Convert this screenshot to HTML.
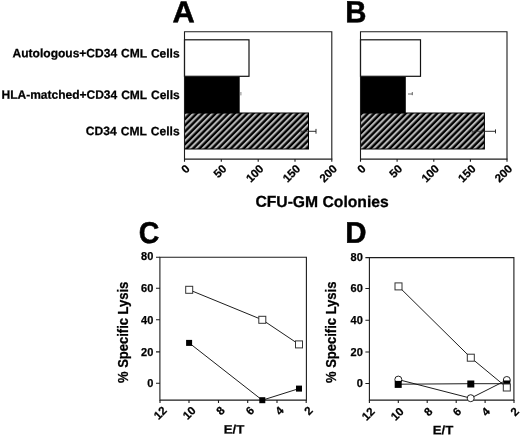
<!DOCTYPE html>
<html>
<head>
<meta charset="utf-8">
<title>Figure</title>
<style>
html,body{margin:0;padding:0;background:#fff;}
body{width:520px;height:437px;overflow:hidden;font-family:"Liberation Sans",sans-serif;}
svg{display:block;will-change:transform;}
text{font-family:"Liberation Sans",sans-serif;font-weight:bold;fill:#000;}
.pl{font-size:30px;stroke:#000;stroke-width:0.5px;}
.lab{font-size:12.1px;stroke:#000;stroke-width:0.25px;}
.tk{font-size:11px;stroke:#000;stroke-width:0.25px;}
.rt{font-size:11.5px;}
.ax{font-size:15.7px;stroke:#000;stroke-width:0.3px;}
.ln{stroke:#111;stroke-width:0.95;fill:none;}
.eb{stroke:#2a2a2a;stroke-width:0.7;fill:none;}
.eb2{stroke:#222;stroke-width:0.95;fill:none;}
.fr{stroke:#1c1c1c;stroke-width:1.1;fill:none;}
</style>
</head>
<body>
<svg width="520" height="437" viewBox="0 0 520 437">
<defs>
<pattern id="hatch" width="4.5" height="4.45" patternUnits="userSpaceOnUse" patternTransform="rotate(-45) translate(0 -2.0)">
<rect x="0" y="0" width="4.5" height="4.5" fill="#000"/>
<rect x="0" y="0" width="4.5" height="2.1" fill="#b6b6b6"/>
</pattern>
<pattern id="hatchB" width="4.5" height="4.45" patternUnits="userSpaceOnUse" patternTransform="rotate(-45) translate(0 -1.1)">
<rect x="0" y="0" width="4.5" height="4.5" fill="#000"/>
<rect x="0" y="0" width="4.5" height="2.1" fill="#b6b6b6"/>
</pattern>
</defs>
<rect x="0" y="0" width="520" height="437" fill="#fff"/>

<!-- Panel letters -->
<text class="pl" transform="translate(172.55 22.35) rotate(0.1) scale(1.025 1.011)">A</text>
<text class="pl" transform="translate(345.19 22.35) rotate(0.1) scale(0.978 1.013)">B</text>
<text class="pl" transform="translate(138.78 243.06) rotate(0.1) scale(0.948 1.003)">C</text>
<text class="pl" transform="translate(345.33 242.75) rotate(0.1) scale(0.981 0.998)">D</text>

<!-- Row labels -->
<text class="lab" text-anchor="end" style="word-spacing:0.7px" transform="translate(179.65 57.45) rotate(0.1) scale(0.9944 1)">Autologous+CD34 CML Cells</text>
<text class="lab" text-anchor="end" style="word-spacing:0.7px" transform="translate(179.65 99) rotate(0.1) scale(0.9918 1)">HLA-matched+CD34 CML Cells</text>
<text class="lab" text-anchor="end" style="word-spacing:0.7px" transform="translate(179.65 135.25) rotate(0.1) scale(1.0005 1)">CD34 CML Cells</text>

<!-- Panel A -->
<g id="pA">
<rect x="184.5" y="113" width="124" height="36" fill="url(#hatch)" stroke="#000" stroke-width="1"/>
<rect x="184.5" y="76.6" width="55.2" height="36.5" fill="#000"/>
<rect x="184.5" y="39.8" width="64.5" height="36.5" fill="#fff" stroke="#111" stroke-width="1.2"/>
<path class="eb" d="M301 131.3H309M301 129.8V132.8"/><path class="eb2" d="M309 131.3H316M316 128.9V133.7"/>
<path d="M240.9 92V95.4" stroke="#777" stroke-width="0.9" fill="none"/>
<path class="fr" d="M184.5 159.1V31.8H331.8V159.1"/>
<path class="fr" d="M184 159.1H332.3"/>
<path class="fr" d="M184.5 159.1V161.8M221.3 159.1V161.8M258.2 159.1V161.8M295 159.1V161.8M331.8 159.1V161.8"/>
<g class="tk rt">
<text text-anchor="end" transform="translate(190.5 169.4) rotate(-45)">0</text>
<text text-anchor="end" transform="translate(227.3 169.4) rotate(-45)">50</text>
<text text-anchor="end" transform="translate(264.2 169.4) rotate(-45)">100</text>
<text text-anchor="end" transform="translate(301 169.4) rotate(-45)">150</text>
<text text-anchor="end" transform="translate(337.8 169.4) rotate(-45)">200</text>
</g>
</g>

<!-- Panel B -->
<g id="pB">
<rect x="360.5" y="113" width="123.9" height="36" fill="url(#hatchB)" stroke="#000" stroke-width="1"/>
<rect x="360.5" y="76.6" width="45.3" height="36.5" fill="#000"/>
<rect x="360.5" y="39.8" width="60" height="36.5" fill="#fff" stroke="#111" stroke-width="1.2"/>
<path class="eb" d="M472.2 131.3H485M472.2 129.6V133"/><path class="eb2" d="M485 131.3H495.5M495.5 129.4V133.4"/>
<path class="eb" d="M408 94H412.3M412.3 92V95.2" stroke-width="0.9"/>
<path class="fr" d="M360.5 159.1V31.8H507V159.1"/>
<path class="fr" d="M360 159.1H507.5"/>
<path class="fr" d="M360.5 159.1V161.8M397.1 159.1V161.8M433.8 159.1V161.8M470.4 159.1V161.8M507 159.1V161.8"/>
<g class="tk rt">
<text text-anchor="end" transform="translate(366.5 169.4) rotate(-45)">0</text>
<text text-anchor="end" transform="translate(403.1 169.4) rotate(-45)">50</text>
<text text-anchor="end" transform="translate(439.8 169.4) rotate(-45)">100</text>
<text text-anchor="end" transform="translate(476.4 169.4) rotate(-45)">150</text>
<text text-anchor="end" transform="translate(513 169.4) rotate(-45)">200</text>
</g>
</g>

<text class="ax" transform="translate(255.4 206.85) rotate(0.1)">CFU-GM Colonies</text>

<!-- Panel C -->
<g id="pC">
<path class="fr" d="M159.9 257.2H306.4V400.1H159.9Z"/>
<path class="fr" d="M156 257.2H160M156 288.3H160M156 319.8H160M156 351.9H160M156 383.2H160"/>
<path class="fr" d="M160 400V403M189 400V403M218.5 400V403M247.7 400V403M277 400V403M306.2 400V403"/>
<g class="tk" text-anchor="end">
<text x="153.3" y="260.2">80</text>
<text x="153.3" y="292">60</text>
<text x="153.3" y="323.5">40</text>
<text x="153.3" y="355.7">20</text>
<text x="153.3" y="387">0</text>
</g>
<g class="tk rt">
<text text-anchor="end" transform="translate(167.5 411.3) rotate(-45)">12</text>
<text text-anchor="end" transform="translate(196.5 411.3) rotate(-45)">10</text>
<text text-anchor="end" transform="translate(225.5 411.3) rotate(-45)">8</text>
<text text-anchor="end" transform="translate(255 411.3) rotate(-45)">6</text>
<text text-anchor="end" transform="translate(284.5 411.3) rotate(-45)">4</text>
<text text-anchor="end" transform="translate(313.5 411.3) rotate(-45)">2</text>
</g>
<text class="lab" text-anchor="middle" transform="translate(234 433.45) rotate(0.1) scale(1.09 1)">E/T</text>
<text class="lab" style="font-size:13px" text-anchor="middle" transform="translate(128 332.3) rotate(-90) scale(1 1.11)">% Specific Lysis</text>
<path class="ln" d="M189.2 289.8L262.3 319.8L299 344.4"/>
<path class="ln" d="M189.1 342.9L262.3 400.2L299 388.6"/>
<g fill="#fff" stroke="#333" stroke-width="1">
<rect x="185.7" y="286.3" width="7" height="7"/>
<rect x="258.8" y="316.3" width="7" height="7"/>
<rect x="295.5" y="340.9" width="7" height="7"/>
</g>
<g fill="#000">
<rect x="186.1" y="339.9" width="6" height="6"/>
<rect x="259.3" y="397.2" width="6" height="6"/>
<rect x="296" y="385.6" width="6" height="6"/>
</g>
</g>

<!-- Panel D -->
<g id="pD">
<path class="fr" d="M369.4 257.6H513.9V400.1H369.4Z"/>
<path class="fr" d="M365.4 257.6H369.4M365.4 288.5H369.4M365.4 320.2H369.4M365.4 352H369.4M365.4 383.5H369.4"/>
<path class="fr" d="M369.4 400V403M398.3 400V403M427.2 400V403M456.2 400V403M485.1 400V403M514 400V403"/>
<g class="tk" text-anchor="end">
<text x="362.8" y="260.8">80</text>
<text x="362.8" y="292.3">60</text>
<text x="362.8" y="324">40</text>
<text x="362.8" y="355.8">20</text>
<text x="362.8" y="387.3">0</text>
</g>
<g class="tk rt">
<text text-anchor="end" transform="translate(375.6 412.3) rotate(-45)">12</text>
<text text-anchor="end" transform="translate(404.5 412.3) rotate(-45)">10</text>
<text text-anchor="end" transform="translate(433.2 412.3) rotate(-45)">8</text>
<text text-anchor="end" transform="translate(462 412.3) rotate(-45)">6</text>
<text text-anchor="end" transform="translate(490.9 412.3) rotate(-45)">4</text>
<text text-anchor="end" transform="translate(519.8 412.3) rotate(-45)">2</text>
</g>
<text class="lab" text-anchor="middle" transform="translate(443 434.3) rotate(0.1) scale(1.09 1)">E/T</text>
<text class="lab" style="font-size:13px" text-anchor="middle" transform="translate(336 332.3) rotate(-90) scale(1 1.13)">% Specific Lysis</text>
<path class="ln" d="M398.4 379.6L470.7 398.2L506.8 380"/>
<path class="ln" d="M398.4 384.2L470.8 383.7L506.8 383.7"/>
<path class="ln" d="M398.5 286.4L470.8 357.7L506.8 387.5"/>
<g fill="#fff" stroke="#222" stroke-width="1">
<circle cx="398.3" cy="379.6" r="3.5"/>
<circle cx="470.7" cy="398.2" r="3.5"/>
<circle cx="506.8" cy="380" r="3.5"/>
</g>
<g fill="#000">
<rect x="394.7" y="380.9" width="7" height="7"/>
<rect x="467.3" y="380.5" width="7" height="7"/>
<rect x="503.3" y="380.5" width="7" height="7"/>
</g>
<g fill="#fff" stroke="#333" stroke-width="1">
<rect x="395" y="282.9" width="7" height="7"/>
<rect x="467.3" y="354.2" width="7" height="7"/>
<rect x="503.3" y="384" width="7" height="7"/>
</g>
</g>
</svg>
</body>
</html>
